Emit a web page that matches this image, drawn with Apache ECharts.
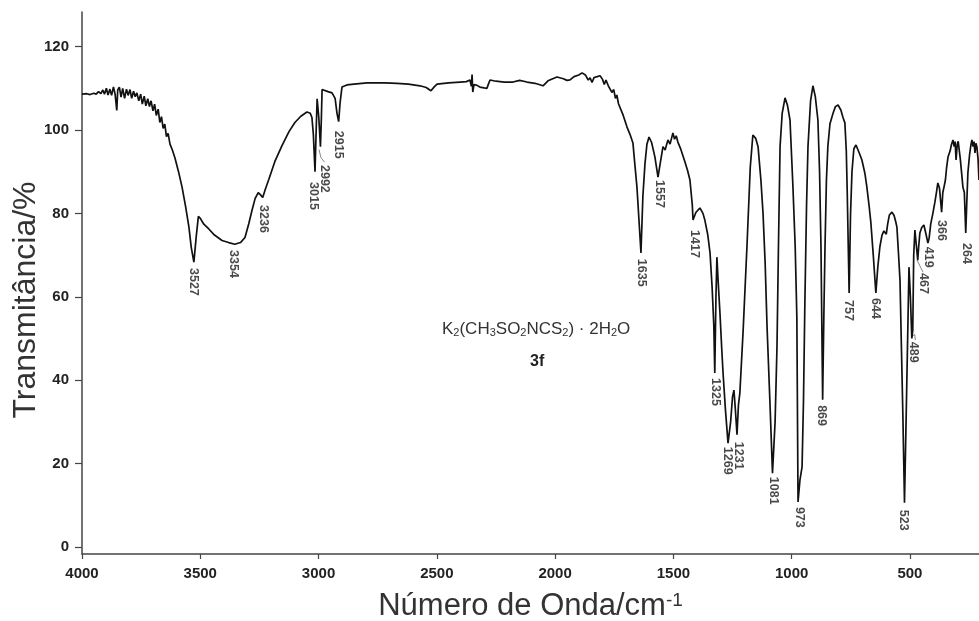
<!DOCTYPE html>
<html>
<head>
<meta charset="utf-8">
<script src="https://cdn.jsdelivr.net/npm/echarts@6/dist/echarts.min.js"></script>
<style>
html, body { margin: 0; padding: 0; background: #fff; }
#container { width: 979px; height: 621px; }
</style>
</head>
<body>
<div id="container"></div>
<script>
// espectro IR (numero de onda / transmitancia)
var wn = [4000,3980,3966,3950,3940,3930,3920,3912,3905,3897,3890,3882,3875,3867,3860,3853,3849,3842,3835,3828,3820,3812,3805,3797,3790,3782,3775,3768,3760,3752,3745,3737,3730,3722,3715,3708,3700,3693,3686,3678,3671,3664,3657,3650,3643,3636,3628,3618,3607,3592,3577,3562,3548,3538,3527,3517,3508,3500,3485,3463,3440,3408,3380,3354,3330,3311,3295,3281,3268,3255,3246,3236,3225,3210,3185,3155,3125,3100,3075,3049,3035,3028,3022,3015,3010,3006,2999,2992,2988,2985,2960,2943,2930,2922,2915,2909,2901,2880,2850,2795,2720,2668,2620,2571,2545,2525,2510,2499,2450,2402,2375,2360,2354,2351,2348,2343,2330,2318,2300,2288,2282,2275,2250,2215,2178,2150,2119,2085,2051,2030,2010,1992,1965,1950,1937,1920,1900,1886,1872,1860,1852,1844,1835,1822,1810,1800,1792,1785,1775,1768,1760,1752,1745,1739,1732,1726,1712,1696,1683,1671,1662,1654,1645,1637,1629,1620,1612,1603,1592,1578,1565,1557,1544,1535,1523,1514,1502,1495,1488,1481,1470,1460,1451,1440,1430,1420,1417,1405,1388,1375,1367,1355,1345,1336,1329,1325,1320,1316,1310,1303,1296,1290,1280,1269,1258,1250,1244,1238,1231,1225,1219,1205,1189,1175,1164,1152,1142,1130,1121,1112,1104,1092,1081,1070,1062,1055,1049,1040,1028,1018,1007,995,985,978,973,965,956,950,944,937,931,920,910,900,889,882,876,869,864,859,853,847,838,825,815,804,792,783,775,769,765,757,751,745,737,728,715,703,690,682,673,665,655,644,636,627,618,610,606,600,594,587,576,567,560,555,548,542,536,530,523,518,513,508,504,498,492,488,484,479,474,467,463,458,450,441,432,424,419,412,403,395,388,382,375,366,361,356,350,345,339,330,325,318,313,309,305,300,296,293,287,282,276,270,264,260,255,248,242,238,233,229,225,221,217,212,208];
var trans = [108.6,108.7,108.5,108.8,108.6,109.2,108.7,109.6,108.6,110.0,108.4,109.8,108.3,110.3,108.6,104.7,109.6,110.3,107.9,110.0,107.6,109.8,108.3,109.7,107.6,109.3,108.0,108.9,107.0,108.6,106.2,108.1,105.8,107.5,105.6,107.0,104.6,106.2,103.5,105.0,101.8,103.2,100.4,101.4,98.4,99.2,96.6,95.2,93.3,90.0,86.3,81.6,76.7,71.8,68.3,74.5,79.3,78.8,77.4,76.2,74.8,73.5,73.0,72.6,73.0,74.2,77.5,80.8,83.6,85.0,84.5,83.8,85.8,88.2,92.4,96.2,99.6,101.8,103.3,104.3,104.0,103.0,99.0,90.0,100.0,107.5,103.0,96.0,103.0,109.7,109.2,108.9,107.6,104.0,102.0,106.5,110.3,110.8,111.0,111.3,111.3,111.2,111.0,110.6,110.2,109.4,110.4,111.0,111.3,111.5,111.6,112.0,110.5,113.3,109.1,110.9,110.7,110.3,110.1,110.0,111.0,112.0,111.7,111.5,111.5,111.9,111.5,111.2,110.6,111.8,112.3,112.7,112.3,111.9,112.0,112.8,113.2,113.7,113.2,112.0,112.5,111.4,112.6,112.8,113.0,112.2,110.9,112.0,110.6,110.8,109.0,109.7,107.6,108.4,106.3,106.5,103.5,100.7,98.9,96.9,91.2,86.3,78.0,70.5,84.0,92.0,96.5,98.3,97.0,93.5,88.7,91.5,96.0,95.2,97.6,96.6,99.3,97.8,98.6,97.1,95.6,93.9,92.3,90.3,88.0,82.0,78.4,80.2,81.3,80.0,78.4,75.0,70.5,62.0,53.0,41.7,60.0,69.5,63.0,56.0,48.0,41.7,33.0,24.9,30.0,36.0,37.6,33.0,26.9,34.0,36.9,52.0,72.0,91.0,98.8,98.0,96.0,88.0,80.0,68.0,52.8,35.0,17.7,30.0,48.0,75.0,96.0,104.0,107.7,106.0,102.4,87.0,72.0,55.0,10.8,16.0,19.2,35.0,59.0,82.0,96.0,107.0,110.6,108.0,102.4,90.0,72.0,35.3,55.0,72.0,88.0,96.0,101.5,104.0,105.6,106.0,104.8,103.0,101.7,95.0,85.0,60.9,80.0,90.0,95.5,96.4,94.6,92.8,89.5,86.3,82.0,77.7,70.0,60.9,67.0,72.0,74.8,75.8,76.0,75.0,77.5,79.6,80.3,79.5,78.0,76.7,70.0,64.0,48.0,32.0,10.6,25.0,40.0,55.0,67.1,60.0,50.0,52.0,70.0,76.0,73.0,68.8,72.0,75.3,76.6,77.2,75.0,72.9,74.0,77.5,80.0,82.5,85.0,87.3,86.0,80.3,85.0,86.3,88.0,91.0,93.5,95.0,96.4,97.6,96.0,97.2,92.8,96.5,97.3,96.9,93.0,90.0,86.3,85.0,75.3,82.0,89.7,94.0,96.5,97.6,96.0,97.2,94.5,96.8,96.0,93.0,88.0];

// rotulos dos picos
var peakText = ['3527','3354','3236','3015','2992','2915','1635','1557','1417','1325','1269','1231','1081','973','869','757','644','523','489','467','419','366','264'];
var labelWn = [3529,3360,3231,3020,2973,2914,1637,1557,1413,1324,1273,1227,1079,969,872,758,644,527,483,443,422,367,263];
var labelT = [66.9,71.2,82,87.5,91.6,99.8,69.1,88,76,40.5,24,25.2,16.8,9.6,34,59.2,59.7,8.9,49.2,65.7,72,78.4,72.9];

// linhas de chamada (null separa)
var leaderWn = [2998,2990,2975,null,491,480,477,null,470,449,445];
var leaderT = [95.3,93.4,92.3,null,50.4,51.0,49.6,null,68.8,66.4,65.9];

var xTicks = [4000,3500,3000,2500,2000,1500,1000,500];
var yTicks = [0,20,40,60,80,100,120];

var font = '"Liberation Sans", Arial, sans-serif';

var specData = [];
for (var i = 0; i < wn.length; i++) specData.push([wn[i], trans[i]]);
var labelData = [];
for (var j = 0; j < peakText.length; j++) labelData.push({name: peakText[j], value: [labelWn[j], labelT[j]]});
var leaderData = [];
for (var k = 0; k < leaderWn.length; k++) leaderData.push(leaderWn[k] === null ? [null, null] : [leaderWn[k], leaderT[k]]);

var myChart = echarts.init(document.getElementById('container'));
var option = {
    backgroundColor: '#fff',
    animation: false,
    grid: {
        left: 82,
        right: 0,
        top: 12,
        bottom: 67,
        containLabel: false,
        outerBoundsMode: 'none'
    },
    xAxis: {
        type: 'value',
        inverse: true,
        min: 208,
        max: 4000,
        name: '{a|Número de Onda/cm}{b|-1}',
        nameLocation: 'middle',
        nameGap: 37,
        nameMoveOverlap: false,
        nameTextStyle: {
            rich: {
                a: {fontSize: 31, color: '#333', fontFamily: font},
                b: {fontSize: 19, color: '#333', fontFamily: font, verticalAlign: 'top', padding: [0, 0, 12, 0]}
            }
        },
        axisLine: {show: true, onZero: false, lineStyle: {color: '#444', width: 1.5}},
        axisTick: {show: true, inside: false, length: 5, customValues: xTicks, lineStyle: {color: '#444', width: 1.2}},
        axisLabel: {
            customValues: xTicks,
            margin: 12,
            color: '#222',
            fontSize: 15,
            fontWeight: 'bold',
            fontFamily: font,
            formatter: function (v) { return String(v); }
        },
        splitLine: {show: false}
    },
    yAxis: {
        type: 'value',
        min: -1.7,
        max: 128.3,
        name: 'Transmitância/%',
        nameLocation: 'middle',
        nameGap: 40,
        nameMoveOverlap: false,
        nameTextStyle: {fontSize: 32, color: '#333', fontFamily: font, padding: [0, 34, 0, 0]},
        axisLine: {show: true, lineStyle: {color: '#444', width: 1.5}},
        axisTick: {show: true, inside: false, length: 7, customValues: yTicks, lineStyle: {color: '#444', width: 1.2}},
        axisLabel: {customValues: yTicks, margin: 13, color: '#222', fontSize: 15, fontWeight: 'bold', fontFamily: font},
        splitLine: {show: false}
    },
    graphic: [
        {
            type: 'text',
            left: 442,
            top: 321,
            style: {
                text: '{n|K}{s|2}{n|(CH}{s|3}{n|SO}{s|2}{n|NCS}{s|2}{n|) · 2H}{s|2}{n|O}',
                rich: {
                    n: {fontSize: 17, fill: '#333', fontFamily: font},
                    s: {fontSize: 11, fill: '#333', fontFamily: font, verticalAlign: 'bottom'}
                }
            }
        },
        {
            type: 'text',
            left: 530,
            top: 354,
            style: {text: '3f', fontSize: 16, fontWeight: 'bold', fill: '#222', fontFamily: font}
        }
    ],
    series: [
        {
            name: 'espectro',
            type: 'line',
            data: specData,
            showSymbol: false,
            symbol: 'none',
            lineStyle: {color: '#111', width: 1.7},
            z: 3
        },
        {
            name: 'chamadas',
            type: 'line',
            data: leaderData,
            showSymbol: false,
            symbol: 'none',
            connectNulls: false,
            lineStyle: {color: '#666', width: 0.8},
            z: 2
        },
        {
            name: 'picos',
            type: 'scatter',
            data: labelData,
            symbolSize: 0,
            label: {
                show: true,
                formatter: '{b}',
                position: 'inside',
                rotate: -90,
                align: 'left',
                verticalAlign: 'middle',
                color: '#1a1a1a',
                fontSize: 12.5,
                fontWeight: 'bold',
                fontFamily: font
            },
            z: 4
        }
    ]
};
myChart.setOption(option);
</script>
</body>
</html>
